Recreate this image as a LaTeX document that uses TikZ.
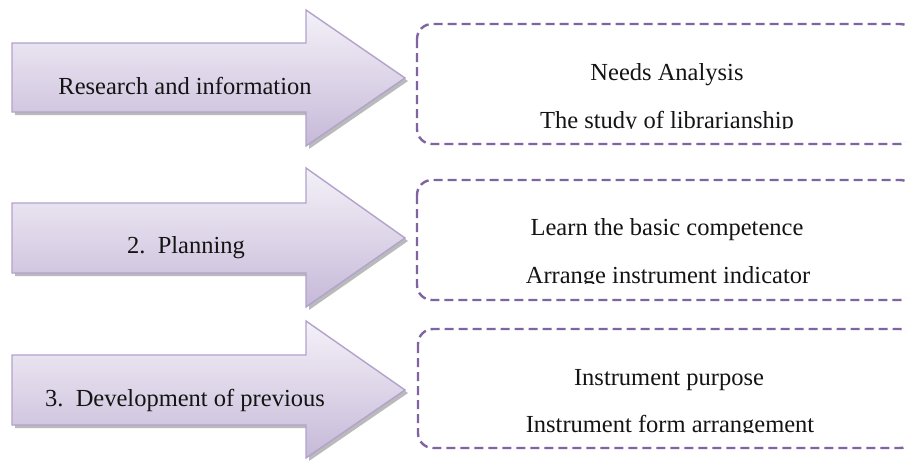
\documentclass[tikz,border=0pt]{standalone}
\usepackage{fontspec}
\setmainfont{Liberation Serif}
\begin{document}
\begin{tikzpicture}[x=1pt,y=-1pt,
  arrowfill/.style={draw=arrowborder,line width=1.4pt,top color=arrowtop,bottom color=arrowbot,line join=miter},
  arrowshadow/.style={fill=black!45,draw=none,opacity=0.6},
  dashbox/.style={draw=boxpurple,line width=2.4pt,dash pattern=on 9pt off 5pt,rounded corners=15pt},
  lbl/.style={inner sep=0pt,anchor=base,font=\fontsize{24.5}{29}\selectfont,text=black!92}]
\definecolor{arrowborder}{HTML}{B3A2CC}
\definecolor{arrowtop}{HTML}{F4F1F8}
\definecolor{arrowbot}{HTML}{C6B9D8}
\definecolor{boxpurple}{HTML}{8064A2}
\useasboundingbox (0,0) rectangle (906,461);
\clip (0,0) rectangle (906,461);
\fill[white] (0,0) rectangle (906,461);
% arrow 1
\fill[arrowshadow] (15,46) -- (309,46) -- (309,13) -- (408,81) -- (309,149) -- (309,115) -- (15,115) -- cycle;
\draw[arrowfill] (12,43) -- (306,43) -- (306,10) -- (405,78) -- (306,146) -- (306,112) -- (12,112) -- cycle;
\node[lbl] (a1) at (185,94) {Research and information};
% arrow 2
\fill[arrowshadow] (15,206) -- (309,206) -- (309,171) -- (408,241) -- (309,310) -- (309,276) -- (15,276) -- cycle;
\draw[arrowfill] (12,203) -- (306,203) -- (306,168) -- (405,238) -- (306,307) -- (306,273) -- (12,273) -- cycle;
\node[lbl] (a2) at (186,253) {2.\ \ Planning};
% arrow 3
\fill[arrowshadow] (15,358) -- (309,358) -- (309,324) -- (408,393) -- (309,461) -- (309,428) -- (15,428) -- cycle;
\draw[arrowfill] (12,355) -- (306,355) -- (306,321) -- (405,390) -- (306,458) -- (306,425) -- (12,425) -- cycle;
\node[lbl] (a3) at (185,406) {3.\ \ Development of previous};
% boxes
\draw[dashbox] (417,24) rectangle (915,144);
\draw[dashbox] (417,180) rectangle (915,300);
\draw[dashbox] (418,329) rectangle (915,448);
\node[lbl] (b1a) at (667,80) {Needs Analysis};
\node[lbl] (b2a) at (667,235) {Learn the basic competence};
\node[lbl] (b3a) at (669,385) {Instrument purpose};
\begin{scope}
\clip (420,90) rectangle (900,128.5);
\node[lbl] (b1b) at (667,128) {The study of librarianship};
\end{scope}
\begin{scope}
\clip (420,245) rectangle (900,283.5);
\node[lbl] (b2b) at (668,283) {Arrange instrument indicator};
\end{scope}
\begin{scope}
\clip (420,395) rectangle (900,432.5);
\node[lbl] (b3b) at (670,432) {Instrument form arrangement};
\end{scope}
\end{tikzpicture}
\end{document}
